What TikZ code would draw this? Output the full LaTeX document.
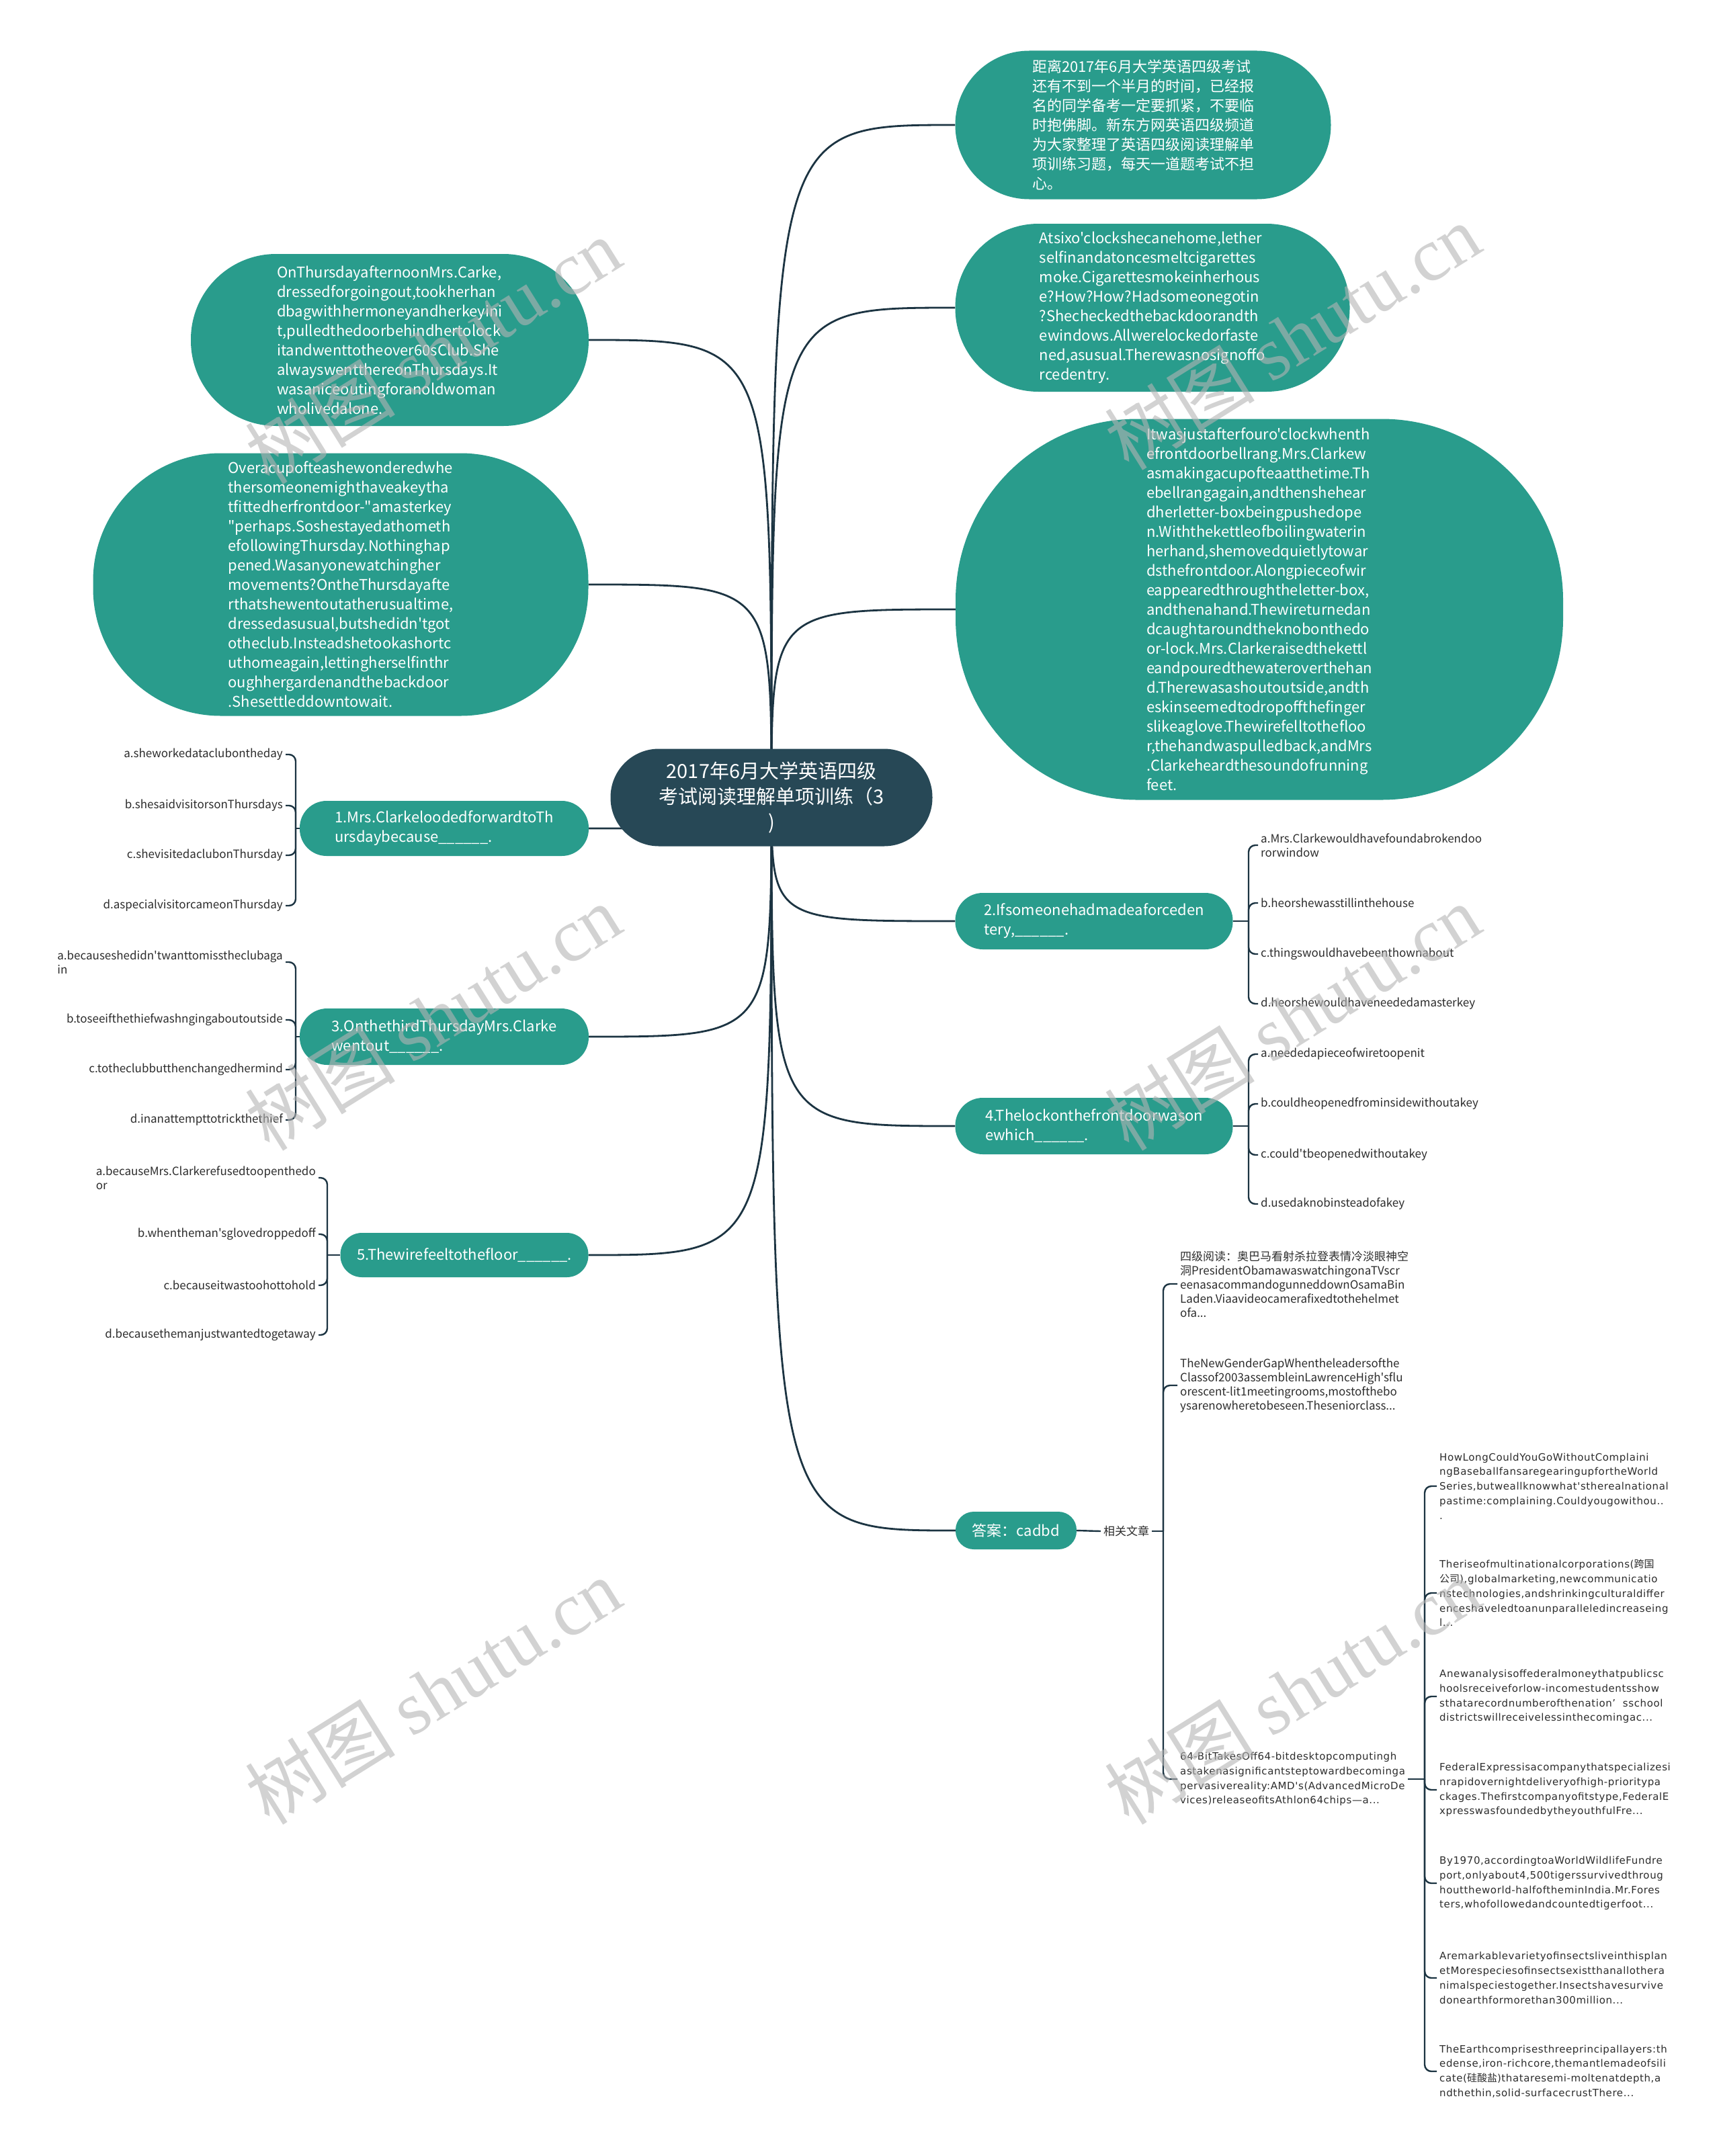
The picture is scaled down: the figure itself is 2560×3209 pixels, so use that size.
\documentclass[tikz,border=0pt]{standalone}
\usepackage{fontspec}
\setmainfont{Noto Sans CJK SC}[Ligatures=TeXOff]
\newfontfamily\widefont{DejaVu Sans}[Ligatures=TeXOff, LetterSpace=4]
\newfontfamily\cjk{Noto Sans CJK SC}[Ligatures=TeXOff]
\newfontfamily\wmlatin{Liberation Serif}
\newcommand\zh[1]{{\cjk #1}}
\usetikzlibrary{backgrounds}
\definecolor{tealc}{RGB}{41,156,140}
\definecolor{darkc}{RGB}{39,72,86}
\definecolor{edgec}{RGB}{28,52,66}
\definecolor{leafc}{RGB}{45,45,45}
\definecolor{wmc}{RGB}{180,180,180}
\tikzset{
  box/.style={fill=tealc, text=white, align=left, inner sep=0pt,
    font=\fontsize{22}{29}\selectfont},
  centerbox/.style={fill=darkc, text=white, align=center, inner sep=0pt,
    font=\fontsize{29}{38}\selectfont, minimum width=479pt, minimum height=145pt, rounded corners=72pt},
  leaf/.style={text=leafc, align=left, inner sep=4pt, font=\fontsize{17}{21}\selectfont},
  wleaf/.style={text=leafc, align=left, inner sep=4pt, font=\widefont\fontsize{15}{21.8}\selectfont},
  conn/.style={draw=edgec, line width=2.8pt},
  tree/.style={draw=edgec, line width=2.4pt, rounded corners=10pt},
  wm/.style={text=wmc, opacity=0.6, rotate=32, font=\fontsize{112}{120}\selectfont}
}
\begin{document}
\begin{tikzpicture}[x=1pt,y=-1pt]
\useasboundingbox (0,0) rectangle (2560,3209);
\begin{scope}[on background layer]
\fill[white] (0,0) rectangle (2560,3209);
\end{scope}

% central
\node[centerbox] (c) at (1148,1187) {2017年6月大学英语四级\\考试阅读理解单项训练（3\\)};

% right big nodes
\node[box, minimum width=559pt, minimum height=221pt, rounded corners=110pt] (tr1) at (1701,186)
{距离2017年6月大学英语四级考试\\还有不到一个半月的时间，已经报\\名的同学备考一定要抓紧，不要临\\时抱佛脚。新东方网英语四级频道\\为大家整理了英语四级阅读理解单\\项训练习题，每天一道题考试不担\\心。};
\node[box, minimum width=587pt, minimum height=250pt, rounded corners=124pt] (tr2) at (1715,458)
{Atsixo'clockshecanehome,lether\\selfinandatoncesmeltcigarettes\\moke.Cigarettesmokeinherhous\\e?How?How?Hadsomeonegotin\\?Shecheckedthebackdoorandth\\ewindows.Allwerelockedorfaste\\ned,asusual.Therewasnosignoffo\\rcedentry.};
\node[box, minimum width=904pt, minimum height=567pt, rounded corners=270pt] (tr3) at (1874,907)
{Itwasjustafterfouro'clockwhenth\\efrontdoorbellrang.Mrs.Clarkew\\asmakingacupofteaatthetime.Th\\ebellrangagain,andthenshehear\\dherletter-boxbeingpushedope\\n.Withthekettleofboilingwaterin\\herhand,shemovedquietlytowar\\dsthefrontdoor.Alongpieceofwir\\eappearedthroughtheletter-box,\\andthenahand.Thewireturnedan\\dcaughtaroundtheknobonthedo\\or-lock.Mrs.Clarkeraisedthekettl\\eandpouredthewateroverthehan\\d.Therewasashoutoutside,andth\\eskinseemedtodropoffthefinger\\slikeaglove.Thewirefelltothefloo\\r,thehandwaspulledback,andMrs\\.Clarkeheardthesoundofrunning\\feet.};

% left big nodes
\node[box, minimum width=592pt, minimum height=256pt, rounded corners=127pt] (l1) at (580,506)
{OnThursdayafternoonMrs.Carke,\\dressedforgoingout,tookherhan\\dbagwithhermoneyandherkeyini\\t,pulledthedoorbehindhertolock\\itandwenttotheover60sClub.She\\alwayswentthereonThursdays.It\\wasaniceoutingforanoldwoman\\wholivedalone.};
\node[box, minimum width=737pt, minimum height=391pt, rounded corners=190pt] (l2) at (507,870)
{Overacupofteashewonderedwhe\\thersomeonemighthaveakeytha\\tfittedherfrontdoor-"amasterkey\\"perhaps.Soshestayedathometh\\efollowingThursday.Nothinghap\\pened.Wasanyonewatchingher\\movements?OntheThursdayafte\\rthatshewentoutatherusualtime,\\dressedasusual,butshedidn'tgot\\otheclub.Insteadshetookashortc\\uthomeagain,lettingherselfinthr\\oughhergardenandthebackdoor\\.Shesettleddowntowait.};

% question nodes
\node[box, minimum width=430pt, minimum height=82pt, rounded corners=40pt] (q1) at (661,1233)
{1.Mrs.ClarkeloodedforwardtoTh\\ursdaybecause\_\_\_\_\_\_.};
\node[box, minimum width=430pt, minimum height=84pt, rounded corners=41pt] (q3) at (661,1543)
{3.OnthethirdThursdayMrs.Clarke\\wentout\_\_\_\_\_\_.};
\node[box, minimum width=369pt, minimum height=66pt, rounded corners=32pt] (q5) at (691,1868)
{5.Thewirefeeltothefloor\_\_\_\_\_\_.};
\node[box, minimum width=413pt, minimum height=84pt, rounded corners=41pt] (q2) at (1628,1371)
{2.Ifsomeonehadmadeaforceden\\tery,\_\_\_\_\_\_.};
\node[box, minimum width=413pt, minimum height=84pt, rounded corners=41pt] (q4) at (1628,1676)
{4.Thelockonthefrontdoorwason\\ewhich\_\_\_\_\_\_.};
\node[box, minimum width=180pt, minimum height=56pt, rounded corners=27pt] (ans) at (1512,2278)
{答案：cadbd};

% Q1 leaves
\node[leaf, anchor=east] (q1a) at (425,1123) {a.sheworkedataclubontheday};
\node[leaf, anchor=east] (q1b) at (425,1199) {b.shesaidvisitorsonThursdays};
\node[leaf, anchor=east] (q1c) at (425,1273) {c.shevisitedaclubonThursday};
\node[leaf, anchor=east] (q1d) at (425,1348) {d.aspecialvisitorcameonThursday};
% Q3 leaves
\node[leaf, anchor=east] (q3a) at (425,1432) {a.becauseshedidn'twanttomisstheclubaga\\in};
\node[leaf, anchor=east] (q3b) at (425,1518) {b.toseeifthethiefwashngingaboutoutside};
\node[leaf, anchor=east] (q3c) at (425,1592) {c.totheclubbutthenchangedhermind};
\node[leaf, anchor=east] (q3d) at (425,1667) {d.inanattempttotrickthethief};
% Q5 leaves
\node[leaf, anchor=east] (q5a) at (474,1753) {a.becauseMrs.Clarkerefusedtoopenthedo\\or};
\node[leaf, anchor=east] (q5b) at (474,1837) {b.whentheman'sglovedroppedoff};
\node[leaf, anchor=east] (q5c) at (474,1913) {c.becauseitwastoohottohold};
\node[leaf, anchor=east] (q5d) at (474,1987) {d.becausethemanjustwantedtogetaway};
% Q2 leaves
\node[leaf, anchor=west] (q2a) at (1872,1258) {a.Mrs.Clarkewouldhavefoundabrokendoo\\rorwindow};
\node[leaf, anchor=west] (q2b) at (1872,1344) {b.heorshewasstillinthehouse};
\node[leaf, anchor=west] (q2c) at (1872,1420) {c.thingswouldhavebeenthownabout};
\node[leaf, anchor=west] (q2d) at (1872,1494) {d.heorshewouldhaveneededamasterkey};
% Q4 leaves
\node[leaf, anchor=west] (q4a) at (1872,1569) {a.neededapieceofwiretoopenit};
\node[leaf, anchor=west] (q4b) at (1872,1643) {b.couldheopenedfrominsidewithoutakey};
\node[leaf, anchor=west] (q4c) at (1872,1719) {c.could'tbeopenedwithoutakey};
\node[leaf, anchor=west] (q4d) at (1872,1792) {d.usedaknobinsteadofakey};

% related
\node[leaf] (rel) at (1676,2279) {相关文章};
\node[leaf, anchor=west] (art1) at (1752,1911) {四级阅读：奥巴马看射杀拉登表情冷淡眼神空\\洞PresidentObamawaswatchingonaTVscr\\eenasacommandogunneddownOsamaBin\\Laden.Viaavideocamerafixedtothehelmet\\ofa...};
\node[leaf, anchor=west] (art2) at (1752,2062) {TheNewGenderGapWhentheleadersofthe\\Classof2003assembleinLawrenceHigh'sflu\\orescent-lit1meetingrooms,mostofthebo\\ysarenowheretobeseen.Theseniorclass...};
\node[wleaf, anchor=west] (art3) at (1752,2648) {64-BitTakesOff64-bitdesktopcomputingh\\astakenasignificantsteptowardbecominga\\pervasivereality:AMD's(AdvancedMicroDe\\vices)releaseofitsAthlon64chips—a...};
\node[wleaf, anchor=west] (k1) at (2138,2212) {HowLongCouldYouGoWithoutComplaini\\ngBaseballfansaregearingupfortheWorld\\Series,butweallknowwhat'stherealnational\\pastime:complaining.Couldyougowithou..\\.};
\node[wleaf, anchor=west] (k2) at (2138,2371) {Theriseofmultinationalcorporations(\zh{跨国}\\\zh{公司}),globalmarketing,newcommunicatio\\nstechnologies,andshrinkingculturaldiffer\\enceshaveledtoanunparalleledincreaseing\\l...};
\node[wleaf, anchor=west] (k3) at (2138,2525) {Anewanalysisoffederalmoneythatpublicsc\\hoolsreceiveforlow-incomestudentsshow\\sthatarecordnumberofthenation’\ \ sschool\\districtswillreceivelessinthecomingac...};
\node[wleaf, anchor=west] (k4) at (2138,2664) {FederalExpressisacompanythatspecializesi\\nrapidovernightdeliveryofhigh-prioritypa\\ckages.Thefirstcompanyofitstype,FederalE\\xpresswasfoundedbytheyouthfulFre...};
\node[wleaf, anchor=west] (k5) at (2138,2803) {By1970,accordingtoaWorldWildlifeFundre\\port,onlyabout4,500tigerssurvivedthroug\\houttheworld-halfoftheminIndia.Mr.Fores\\ters,whofollowedandcountedtigerfoot...};
\node[wleaf, anchor=west] (k6) at (2138,2944) {Aremarkablevarietyofinsectsliveinthisplan\\etMorespeciesofinsectsexistthanallothera\\nimalspeciestogether.Insectshavesurvive\\donearthformorethan300million...};
\node[wleaf, anchor=west] (k7) at (2138,3083) {TheEarthcomprisesthreeprincipallayers:th\\edense,iron-richcore,themantlemadeofsili\\cate(\zh{硅酸盐})thataresemi-moltenatdepth,a\\ndthethin,solid-surfacecrustThere...};

% trunk coordinates
\coordinate (t1) at (440,1233);
\coordinate (t3) at (440,1543);
\coordinate (t5) at (487,1868);
\coordinate (t2) at (1858,1371);
\coordinate (t4) at (1858,1676);
\coordinate (tr) at (1731,2279);
\coordinate (tk) at (2120,2648);

\begin{scope}[on background layer]
\foreach \n in {tr1,tr2,tr3,q2,q4,ans}
  \draw[conn] (c.center) .. controls (c.center |- \n.west) .. (\n.west);
\foreach \n in {l1,l2,q1,q3,q5}
  \draw[conn] (c.center) .. controls (c.center |- \n.east) .. (\n.east);
\end{scope}

\draw[tree] (q1.west) -- (t1);
\foreach \l in {q1a,q1b,q1c,q1d} \draw[tree] (t1) |- (\l.east);
\draw[tree] (q3.west) -- (t3);
\foreach \l in {q3a,q3b,q3c,q3d} \draw[tree] (t3) |- (\l.east);
\draw[tree] (q5.west) -- (t5);
\foreach \l in {q5a,q5b,q5c,q5d} \draw[tree] (t5) |- (\l.east);
\draw[tree] (q2.east) -- (t2);
\foreach \l in {q2a,q2b,q2c,q2d} \draw[tree] (t2) |- (\l.west);
\draw[tree] (q4.east) -- (t4);
\foreach \l in {q4a,q4b,q4c,q4d} \draw[tree] (t4) |- (\l.west);
\draw[tree] (ans.east) -- (rel.west);
\draw[tree] (rel.east) -- (tr);
\foreach \l in {art1,art2,art3} \draw[tree] (tr) |- (\l.west);
\draw[tree] (art3.east) -- (tk);
\foreach \l in {k1,k2,k3,k4,k5,k6,k7} \draw[tree] (tk) |- (\l.west);

% watermarks
\foreach \p [count=\i] in {(644,522),(1923,501),(644,1514),(1923,1514),(644,2517),(1923,2517)}
  \node[wm] (wm\i) at \p {树图 {\wmlatin shutu.cn}};
\end{tikzpicture}
\end{document}
